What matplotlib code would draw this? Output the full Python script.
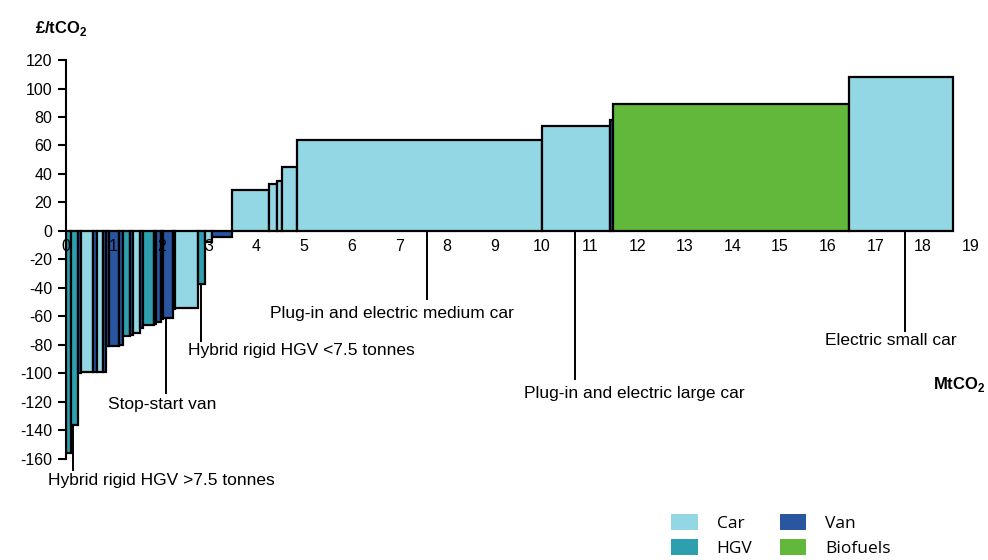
import matplotlib
matplotlib.use("Agg")
import matplotlib.pyplot as plt
from matplotlib.patches import Patch
import numpy as np

plt.rcParams['font.family'] = ['Liberation Sans', 'DejaVu Sans']
plt.rcParams['mathtext.fontset'] = 'custom'
plt.rcParams['mathtext.rm'] = 'Liberation Sans'
plt.rcParams['mathtext.bf'] = 'Liberation Sans:bold'
plt.rcParams['axes.unicode_minus'] = False

# abatement per measure (MtCO2) and cost (£/tCO2), in curve order
widths = [0.105, 0.147, 0.057, 0.252, 0.097, 0.126, 0.050, 0.076, 0.210, 0.084,
          0.141, 0.057, 0.153, 0.063, 0.231, 0.042, 0.105, 0.042, 0.210, 0.042,
          0.483, 0.147, 0.141, 0.426, 0.777, 0.168, 0.105, 0.326, 5.137, 1.429,
          0.063, 4.958, 2.185]
costs = [-156, -136, -100, -99, -99, -99, -99, -81, -81, -80,
         -74, -73, -72, -68, -66, -65, -64, -62, -61, -55,
         -54, -37, -7.5, -4, 29, 33, 35, 45, 64, 74,
         78, 89, 108]
sectors = ['HGV', 'HGV', 'Van', 'Car', 'Van', 'Car', 'Van', 'Van', 'Van', 'Van',
           'HGV', 'Van', 'Car', 'Van', 'HGV', 'Van', 'Van', 'Van', 'Van', 'Van',
           'Car', 'HGV', 'Car', 'Van', 'Car', 'Car', 'Car', 'Car', 'Car', 'Car',
           'Van', 'Biofuels', 'Car']

sector_colors = {'Car': '#93d6e4', 'HGV': '#2e9fae', 'Van': '#2a55a0', 'Biofuels': '#62b83a'}

# labelled measures: (label, x of leader line, line start y, line end y, text x, text y, alignment)
labels = [
    ('Plug-in and electric medium car', 7.58, 0, -48, 6.85, -58, 'center'),
    ('Hybrid rigid HGV <7.5 tonnes', 2.84, -37, -77, 2.56, -84, 'left'),
    ('Stop-start van', 2.10, -62, -114, 2.02, -122, 'center'),
    ('Hybrid rigid HGV >7.5 tonnes', 0.15, -136, -168, -0.38, -175, 'left'),
    ('Plug-in and electric large car', 10.69, 0, -104, 11.93, -114, 'center'),
    ('Electric small car', 17.63, 0, -70, 17.33, -77, 'center'),
]

fig = plt.figure(figsize=(9.88, 5.6), dpi=100)
ax = fig.add_axes([0.0668, 0.168, 0.925, 0.7375])

lefts = np.concatenate([[0], np.cumsum(widths)[:-1]])
ax.bar(lefts, costs, width=widths, align='edge',
       color=[sector_colors[s] for s in sectors],
       edgecolor='black', linewidth=1.6, zorder=1)

# leader lines from bars to labels
for text, lx, y0, y1, tx, ty, ha in labels:
    ax.plot([lx, lx], [y0, y1], color='black', lw=1.4, zorder=3, clip_on=False)
    ax.text(tx, ty, text, ha=ha, va='center', fontsize=12.5, clip_on=False)

ax.set_xlim(0, 19.2)
ax.set_ylim(-165, 125)

for s in ['top', 'right', 'bottom']:
    ax.spines[s].set_visible(False)
ax.spines['left'].set_bounds(-160, 120)
ax.spines['left'].set_linewidth(1.5)
ax.spines['bottom'].set_position(('data', 0))

ax.set_yticks(np.arange(-160, 121, 20))
ax.tick_params(axis='y', direction='out', length=6, width=1.5, labelsize=11.5, pad=4)
ax.set_xticks(np.arange(0, 20))
ax.tick_params(axis='x', length=0, labelsize=11.5, pad=6)

fig.text(35 / 988, 1 - 28 / 560, r'£/tCO$_\mathbf{2}$', fontsize=12, fontweight='bold', va='center')
fig.text(985 / 988, 1 - 385 / 560, r'MtCO$_\mathbf{2}$', fontsize=12, fontweight='bold',
         va='center', ha='right')

handles = [Patch(facecolor=sector_colors[k], edgecolor='none') for k in ['Car', 'HGV', 'Van', 'Biofuels']]
fig.legend(handles, ['Car', 'HGV', 'Van', 'Biofuels'], ncol=2, frameon=False,
           loc='upper left', bbox_to_anchor=(668 / 988, 1 - 511 / 560), borderaxespad=0,
           borderpad=0.2, handlelength=1.5, handleheight=1.0, columnspacing=1.6,
           labelspacing=0.4, handletextpad=1.1, prop={'family': 'Open Sans', 'size': 12.5})

fig.savefig('out.png', dpi=100)
